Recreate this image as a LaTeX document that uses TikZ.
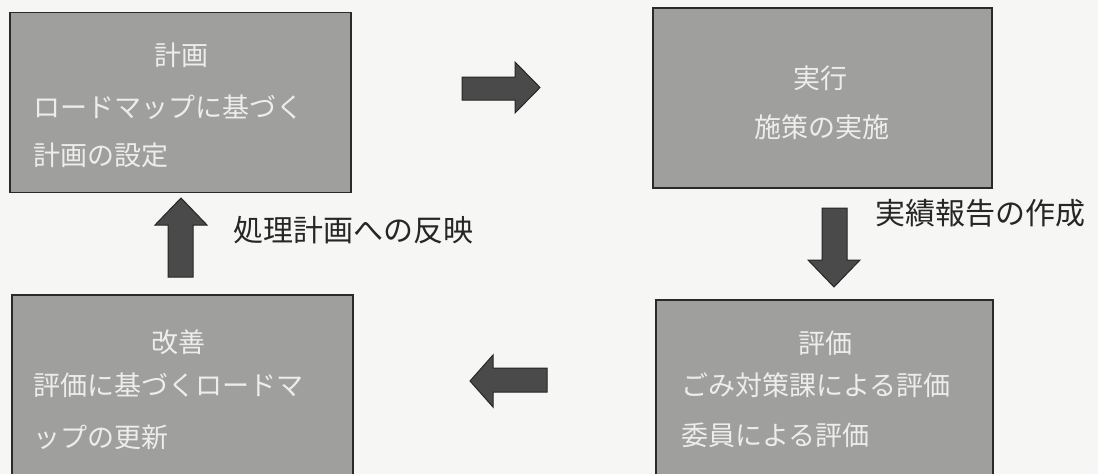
\documentclass[tikz,border=0pt]{standalone}
\usepackage{fontspec}
\newfontfamily\cjk{Noto Sans CJK JP}
\definecolor{bg}{HTML}{F6F6F4}
\definecolor{boxfill}{HTML}{9F9F9D}
\definecolor{boxline}{HTML}{2A2A2A}
\definecolor{boxtext}{HTML}{EDEDEB}
\definecolor{arrowfill}{HTML}{4A4A4A}
\definecolor{arrowline}{HTML}{262626}
\tikzset{
  panel/.style={draw=boxline, line width=1.6pt, fill=boxfill, inner sep=0pt},
  paneltext/.style={text=boxtext, inner sep=0pt, font=\cjk\fontsize{27}{27}\selectfont},
  cue/.style={text=black!85, inner sep=0pt, font=\cjk\fontsize{30}{30}\selectfont},
  blockarrow/.style={fill=arrowfill, draw=arrowline, line width=1pt, line join=miter},
}
\begin{document}
\begin{tikzpicture}[x=1pt,y=-1pt]
\clip (0,0) rectangle (1098,474);
\fill[bg] (0,0) rectangle (1098,474);
% boxes
\node[panel, minimum width=341pt, minimum height=180pt] (plan) at (180.5,102.5) {};
\node[panel, minimum width=339pt, minimum height=180pt] (do) at (822.5,98) {};
\node[panel, minimum width=341pt, minimum height=200pt] (act) at (182.5,395) {};
\node[panel, minimum width=337pt, minimum height=200pt] (check) at (824.5,400) {};
% box texts
\node[paneltext] (planT) at (181,55) {計画};
\node[paneltext, anchor=west] (planA) at (33,107) {ロードマップに基づく};
\node[paneltext, anchor=west] (planB) at (33,155) {計画の設定};
\node[paneltext] (doT) at (820,78) {実行};
\node[paneltext] (doA) at (822,127) {施策の実施};
\node[paneltext] (actT) at (178,342) {改善};
\node[paneltext, anchor=west] (actA) at (33,385) {評価に基づくロードマ};
\node[paneltext, anchor=west] (actB) at (33,437) {ップの更新};
\node[paneltext] (checkT) at (825,343) {評価};
\node[paneltext, anchor=west] (checkA) at (681,385) {ごみ対策課による評価};
\node[paneltext, anchor=west] (checkB) at (681,435) {委員による評価};
% labels
\node[cue, anchor=west] (lblUp) at (233,230) {処理計画への反映};
\node[cue, anchor=west] (lblDown) at (875,213) {実績報告の作成};
% block arrows
\draw[blockarrow] (462,77) -- (515,77) -- (515,62) -- (540,87.5) -- (515,113) -- (515,100) -- (462,100) -- cycle;
\draw[blockarrow] (168,277) -- (168,225) -- (155,225) -- (181,198) -- (207,225) -- (193,225) -- (193,277) -- cycle;
\draw[blockarrow] (822,208) -- (847,208) -- (847,260) -- (860,260) -- (834,287) -- (808,260) -- (822,260) -- cycle;
\draw[blockarrow] (547,368) -- (493,368) -- (493,355) -- (470,381) -- (493,407) -- (493,392) -- (547,392) -- cycle;
\end{tikzpicture}
\end{document}
